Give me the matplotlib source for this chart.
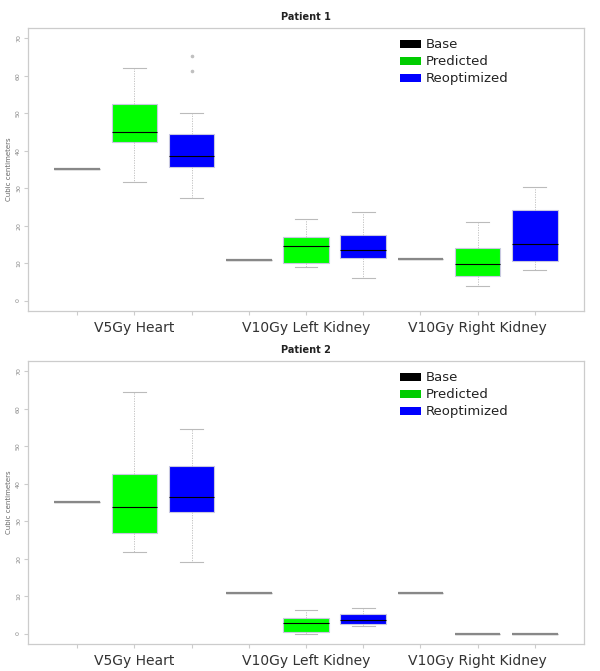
import matplotlib
matplotlib.use("Agg")
import matplotlib.pyplot as plt
from matplotlib.patches import Patch

categories = ["V5Gy Heart", "V10Gy Left Kidney", "V10Gy Right Kidney"]
series = ["Base", "Predicted", "Reoptimized"]
series_colors = ["#000000", "#00ff00", "#0000ff"]
legend_colors = ["#000000", "#00cc00", "#0000ff"]
patients = ["Patient 1", "Patient 2"]
y_ticks = [0, 10, 20, 30, 40, 50, 60, 70]

# five-number summaries: [whisker low, q1, median, q3, whisker high]
p1_base = [35.1, 10.9, 11.0]
p1_predicted = [[31.6, 42.4, 45.0, 52.5, 62.0],
                [8.9, 10.0, 14.5, 16.9, 21.8],
                [3.9, 6.6, 9.8, 14.0, 21.1]]
p1_reoptimized = [[27.5, 35.7, 38.6, 44.4, 50.0],
                  [6.0, 11.3, 13.6, 17.6, 23.6],
                  [8.2, 10.5, 15.0, 24.1, 30.2]]
p1_reopt_fliers = [[61.2, 65.4], [], []]
p1_pred_fliers = [[], [], []]

p2_base = [35.1, 10.7, 10.8]
p2_predicted = [[21.9, 26.8, 33.7, 42.5, 64.5],
                [0.0, 0.4, 2.7, 4.2, 6.15],
                [0.0, 0.0, 0.0, 0.0, 0.0]]
p2_reoptimized = [[19.0, 32.5, 36.5, 44.8, 54.7],
                  [1.9, 2.5, 3.5, 5.2, 6.7],
                  [0.0, 0.0, 0.0, 0.0, 0.0]]
p2_reopt_fliers = [[], [], []]
p2_pred_fliers = [[], [], []]

data = [
    (p1_base, p1_predicted, p1_reoptimized, p1_pred_fliers, p1_reopt_fliers),
    (p2_base, p2_predicted, p2_reoptimized, p2_pred_fliers, p2_reopt_fliers),
]

fig = plt.figure(figsize=(6.0, 6.71), dpi=100)
W, H = 600, 671
axes_px = [(28, 28, 584, 311), (28, 361, 584, 644)]

grey = "#bbbbbb"
for pi, (base, pred, reopt, pfl, rfl) in enumerate(data):
    l, t, r, b = axes_px[pi]
    ax = fig.add_axes([l / W, (H - b) / H, (r - l) / W, (b - t) / H])

    def stats_of(v, fl):
        return dict(whislo=v[0], q1=v[1], med=v[2], q3=v[3], whishi=v[4], fliers=fl)

    for ci in range(len(categories)):
        pos0 = ci * 3 + 1
        # base: degenerate box drawn as a single line
        bv = base[ci]
        ax.bxp([stats_of([bv] * 5, [])], positions=[pos0], widths=0.8,
               patch_artist=True, showfliers=False, showcaps=False,
               boxprops=dict(facecolor="none", edgecolor="#999999", linewidth=1.0),
               medianprops=dict(color="#888888", linewidth=1.6),
               whiskerprops=dict(linewidth=0))
        for si, (vals, fls) in enumerate([(pred, pfl), (reopt, rfl)]):
            v = vals[ci]
            degenerate = v[0] == v[4]
            ax.bxp([stats_of(v, fls[ci])], positions=[pos0 + 1 + si], widths=0.8,
                   patch_artist=True, showfliers=True, showcaps=not degenerate,
                   boxprops=dict(facecolor=series_colors[si + 1],
                                 edgecolor="#c8c8e0" if not degenerate else "#999999",
                                 linewidth=0.8 if not degenerate else 1.0),
                   medianprops=dict(color="#000000" if not degenerate else "#888888",
                                    linewidth=0.8 if not degenerate else 1.6),
                   whiskerprops=dict(color=grey, linewidth=0.6, linestyle=(0, (1.5, 1.5))),
                   capprops=dict(color=grey, linewidth=0.8),
                   capwidths=0.4,
                   flierprops=dict(marker="o", markersize=1.6, markerfacecolor="#c0c0c0",
                                   markeredgecolor="#c0c0c0", linestyle="none"))

    ax.set_xlim(0.14, 9.86)
    ax.set_ylim(-2.8, 72.8)
    ax.set_xticks(range(1, 10))
    labels = [""] * 9
    for ci, c in enumerate(categories):
        labels[ci * 3 + 1] = c
    ax.set_xticklabels(labels, fontsize=10, color="#333333")
    ax.set_yticks(y_ticks)
    ax.set_yticklabels([str(v) for v in y_ticks], fontsize=4.5, color="#888888",
                       rotation=90, va="center")
    ax.tick_params(axis="x", length=3, color="#cccccc", width=0.8, pad=4)
    ax.tick_params(axis="y", length=3, color="#cccccc", width=0.8, pad=2)
    for s in ax.spines.values():
        s.set_color("#cccccc")
        s.set_linewidth(0.9)
    ax.set_ylabel("Cubic centimeters", fontsize=5, color="#666666", labelpad=3)
    ax.set_title(patients[pi], fontsize=7, fontweight="bold", color="#222222", pad=6)

    handles = [Patch(facecolor=legend_colors[i], edgecolor="none", label=series[i])
               for i in range(3)]
    ax.legend(handles=handles, loc="upper left", bbox_to_anchor=(0.66, 0.982),
              frameon=False, fontsize=9.5, handlelength=1.6, handleheight=0.55,
              handletextpad=0.3, labelspacing=0.3, borderaxespad=0,
              labelcolor="#222222")

fig.savefig("out.png", dpi=100)
